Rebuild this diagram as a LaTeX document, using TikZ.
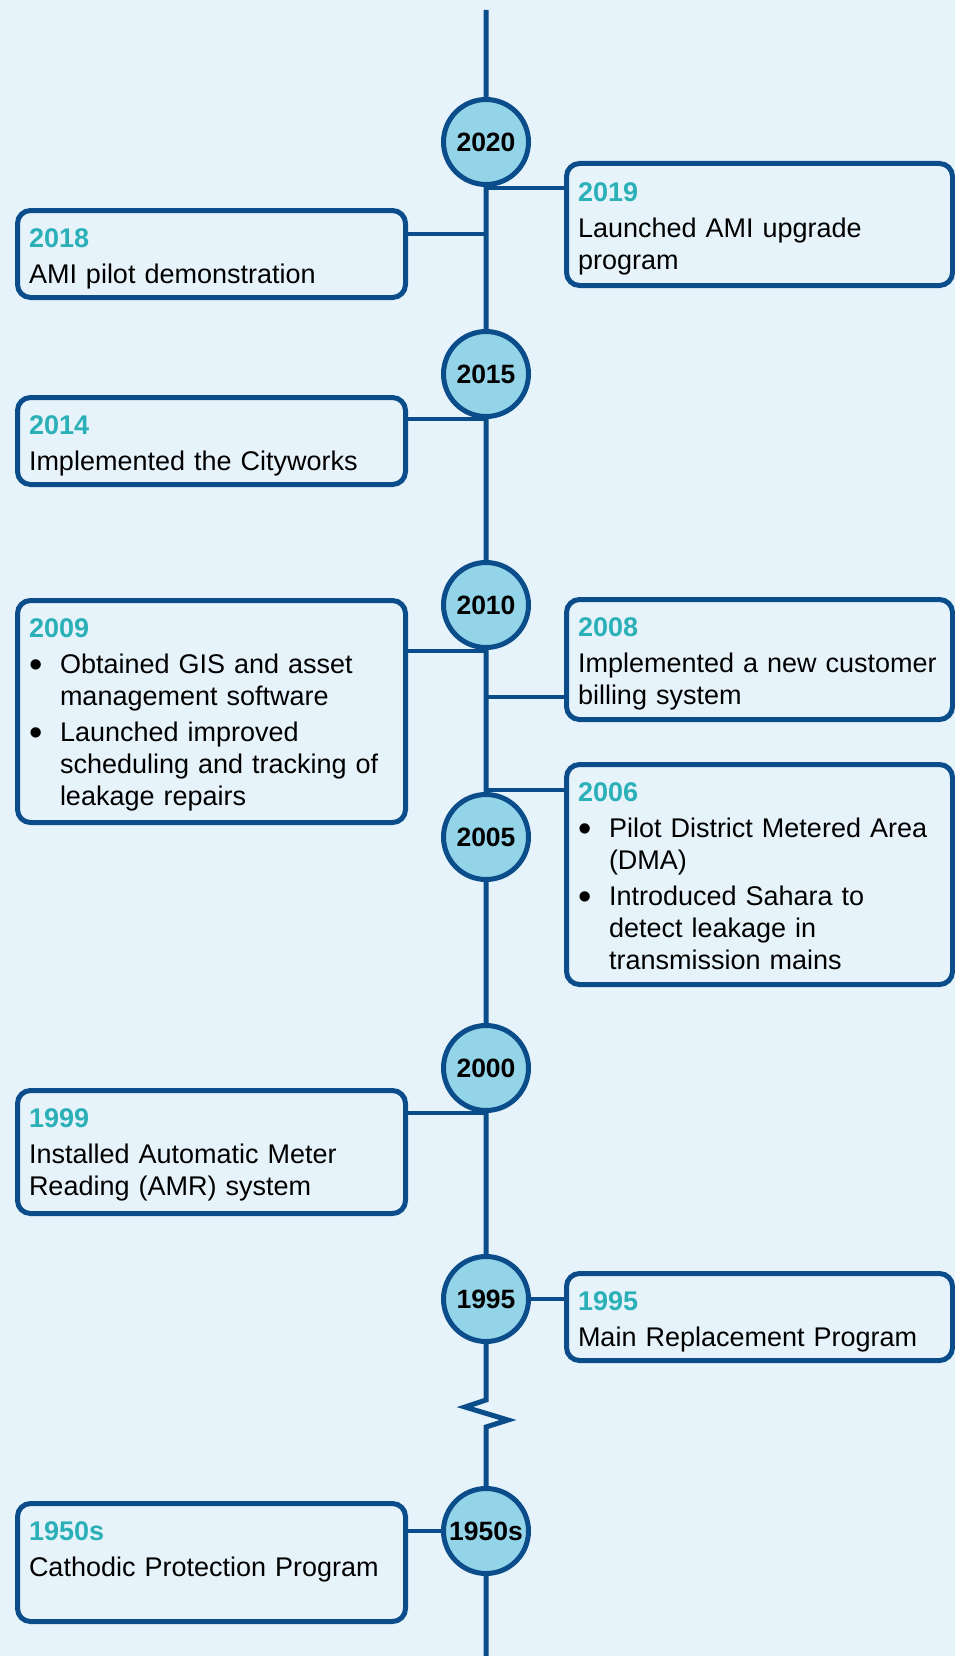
\documentclass[tikz,border=0pt]{standalone}
\usepackage{fontspec}
\setmainfont{Liberation Sans}
\definecolor{bgc}{HTML}{E7F3FA}
\definecolor{navy}{HTML}{0B4C8B}
\definecolor{circfill}{HTML}{93D4E8}
\definecolor{yearcol}{HTML}{2BB0B8}
\newcommand{\tlyear}[1]{{\color{yearcol}\bfseries\rule{0pt}{20pt}#1}}
\newcommand{\tlbul}{\makebox[31pt][l]{\raisebox{-4.7pt}{\fontsize{38}{32}\selectfont\textbullet}}}
\newcommand{\tlind}{\hspace*{31pt}}
\begin{document}
\begin{tikzpicture}[x=1pt,y=-1pt,
  spine/.style={draw=navy,line width=5pt},
  conn/.style={draw=navy,line width=4.8pt},
  box/.style={rectangle,draw=navy,line width=5pt,rounded corners=13pt,fill=bgc,inner sep=0pt,outer sep=0pt},
  yr/.style={circle,draw=navy,line width=5pt,fill=circfill,minimum size=85pt,inner sep=0pt,outer sep=0pt,font=\fontsize{26.5}{30}\selectfont\bfseries},
  txt/.style={anchor=north west,inner sep=0pt,outer sep=0pt,text width=378pt,align=left,font=\fontsize{27}{32}\selectfont},
  lbox/.style={box,minimum width=388pt},
  rbox/.style={box,minimum width=386pt}
]
\fill[bgc] (0,0) rectangle (955,1656);
\useasboundingbox (0,0) rectangle (955,1656);

% year circles
\node[yr] (c2020) at (486,142) {2020};
\node[yr] (c2015) at (486,374) {2015};
\node[yr] (c2010) at (486,605) {2010};
\node[yr] (c2005) at (486,837) {2005};
\node[yr] (c2000) at (486,1068) {2000};
\node[yr] (c1995) at (486,1299) {1995};
\node[yr] (c1950) at (486,1531) {1950s};

% spine
\coordinate (top) at (486,10);
\coordinate (bottom) at (486,1660);
\coordinate (z1) at (486,1400);
\coordinate (z2) at (465,1407);
\coordinate (z3) at (508,1420);
\coordinate (z4) at (486,1427);
\draw[spine] (top) -- (c2020) -- (c2015) -- (c2010) -- (c2005) -- (c2000) -- (c1995) -- (z1) -- (z2) -- (z3) -- (z4) -- (c1950) -- (bottom);

% boxes
\node[rbox,minimum height=122pt] (b2019) at (759.5,224.5) {};
\node[lbox,minimum height=87pt] (b2018) at (211.5,254) {};
\node[lbox,minimum height=87pt] (b2014) at (211.5,441) {};
\node[lbox,minimum height=222pt] (b2009) at (211.5,711.5) {};
\node[rbox,minimum height=120pt] (b2008) at (759.5,659.5) {};
\node[rbox,minimum height=220pt] (b2006) at (759.5,874.5) {};
\node[lbox,minimum height=123pt] (b1999) at (211.5,1152) {};
\node[rbox,minimum height=87pt] (b1995) at (759.5,1317) {};
\node[lbox,minimum height=118pt] (b1950) at (211.5,1562.5) {};

% connectors
\coordinate (s2019) at (486,188);
\coordinate (s2018) at (486,234);
\coordinate (s2014) at (486,419);
\coordinate (s2009) at (486,651);
\coordinate (s2008) at (486,697);
\coordinate (s2006) at (486,790);
\coordinate (s1999) at (486,1113);
\draw[conn] (s2019) -- (s2019 -| b2019.west);
\draw[conn] (s2018) -- (s2018 -| b2018.east);
\draw[conn] (s2014) -- (s2014 -| b2014.east);
\draw[conn] (s2009) -- (s2009 -| b2009.east);
\draw[conn] (s2008) -- (s2008 -| b2008.west);
\draw[conn] (s2006) -- (s2006 -| b2006.west);
\draw[conn] (s1999) -- (s1999 -| b1999.east);
\draw[conn] (c1995) -- (c1995 -| b1995.west);
\draw[conn] (c1950) -- (c1950 -| b1950.east);

% texts
\node[txt] (t2019) at ([shift={(11.5,18)}]b2019.north west) {\tlyear{2019}\\[4pt]Launched AMI upgrade\\program};
\node[txt] (t2018) at ([shift={(11.5,16.5)}]b2018.north west) {\tlyear{2018}\\[4pt]AMI pilot demonstration};
\node[txt] (t2014) at ([shift={(11.5,16.5)}]b2014.north west) {\tlyear{2014}\\[4pt]Implemented the Cityworks};
\node[txt] (t2009) at ([shift={(11.5,16.5)}]b2009.north west) {\tlyear{2009}\\[4pt]\tlbul Obtained GIS and asset\\\tlind management software\\[4pt]\tlbul Launched improved\\\tlind scheduling and tracking of\\\tlind leakage repairs};
\node[txt] (t2008) at ([shift={(11.5,16.5)}]b2008.north west) {\tlyear{2008}\\[4pt]Implemented a new customer\\billing system};
\node[txt] (t2006) at ([shift={(11.5,16.5)}]b2006.north west) {\tlyear{2006}\\[4pt]\tlbul Pilot District Metered Area\\\tlind (DMA)\\[4pt]\tlbul Introduced Sahara to\\\tlind detect leakage in\\\tlind transmission mains};
\node[txt] (t1999) at ([shift={(11.5,16.5)}]b1999.north west) {\tlyear{1999}\\[4pt]Installed Automatic Meter\\Reading (AMR) system};
\node[txt] (t1995) at ([shift={(11.5,16.5)}]b1995.north west) {\tlyear{1995}\\[4pt]Main Replacement Program};
\node[txt] (t1950) at ([shift={(11.5,16.5)}]b1950.north west) {\tlyear{1950s}\\[4pt]Cathodic Protection Program};
\end{tikzpicture}
\end{document}
